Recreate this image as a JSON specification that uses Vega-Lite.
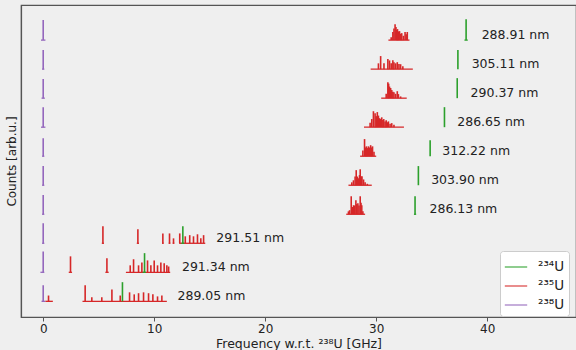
{
  "$schema": "https://vega.github.io/schema/vega-lite/v6.json",
  "width": 555,
  "height": 312,
  "autosize": {"type": "none"},
  "padding": {"left": 21, "top": 5, "right": 0, "bottom": 33},
  "background": "#efefef",
  "config": {
    "font": "DejaVu Sans",
    "view": {"stroke": "#555555", "strokeWidth": 1.2, "fill": "#efefef"},
    "axis": {"domainColor": "#555555", "domainWidth": 1.2, "tickColor": "#555555", "labelColor": "#222222", "titleColor": "#222222", "grid": false, "labelFont": "DejaVu Sans", "titleFont": "DejaVu Sans", "titleFontWeight": "normal"}
  },
  "datasets": {
    "spikes": [
      {"iso": "²³⁸U", "f": 0, "c0": 9, "c1": 9.69},
      {"iso": "²³⁸U", "f": 0, "c0": 8, "c1": 8.66},
      {"iso": "²³⁸U", "f": 0, "c0": 7, "c1": 7.66},
      {"iso": "²³⁸U", "f": 0, "c0": 6, "c1": 6.69},
      {"iso": "²³⁸U", "f": 0, "c0": 5, "c1": 5.62},
      {"iso": "²³⁸U", "f": 0, "c0": 4, "c1": 4.66},
      {"iso": "²³⁸U", "f": 0, "c0": 3, "c1": 3.66},
      {"iso": "²³⁸U", "f": 0, "c0": 2, "c1": 2.69},
      {"iso": "²³⁸U", "f": 0, "c0": 1, "c1": 1.72},
      {"iso": "²³⁸U", "f": 0, "c0": 0, "c1": 0.55},

      {"iso": "²³⁵U", "f": 31.35, "c0": 9, "c1": 9.1},
      {"iso": "²³⁵U", "f": 31.5, "c0": 9, "c1": 9.28},
      {"iso": "²³⁵U", "f": 31.6, "c0": 9, "c1": 9.4},
      {"iso": "²³⁵U", "f": 31.7, "c0": 9, "c1": 9.55},
      {"iso": "²³⁵U", "f": 31.78, "c0": 9, "c1": 9.45},
      {"iso": "²³⁵U", "f": 31.85, "c0": 9, "c1": 9.35},
      {"iso": "²³⁵U", "f": 31.92, "c0": 9, "c1": 9.38},
      {"iso": "²³⁵U", "f": 32.0, "c0": 9, "c1": 9.3},
      {"iso": "²³⁵U", "f": 32.1, "c0": 9, "c1": 9.31},
      {"iso": "²³⁵U", "f": 32.2, "c0": 9, "c1": 9.22},
      {"iso": "²³⁵U", "f": 32.3, "c0": 9, "c1": 9.24},
      {"iso": "²³⁵U", "f": 32.45, "c0": 9, "c1": 9.15},
      {"iso": "²³⁵U", "f": 32.6, "c0": 9, "c1": 9.28},
      {"iso": "²³⁵U", "f": 32.7, "c0": 9, "c1": 9.2},
      {"iso": "²³⁵U", "f": 32.8, "c0": 9, "c1": 9.28},

      {"iso": "²³⁵U", "f": 30.2, "c0": 8, "c1": 8.2},
      {"iso": "²³⁵U", "f": 30.4, "c0": 8, "c1": 8.45},
      {"iso": "²³⁵U", "f": 30.7, "c0": 8, "c1": 8.2},
      {"iso": "²³⁵U", "f": 31.05, "c0": 8, "c1": 8.35},
      {"iso": "²³⁵U", "f": 31.2, "c0": 8, "c1": 8.3},
      {"iso": "²³⁵U", "f": 31.35, "c0": 8, "c1": 8.2},
      {"iso": "²³⁵U", "f": 31.5, "c0": 8, "c1": 8.31},
      {"iso": "²³⁵U", "f": 31.6, "c0": 8, "c1": 8.24},
      {"iso": "²³⁵U", "f": 31.75, "c0": 8, "c1": 8.2},
      {"iso": "²³⁵U", "f": 31.9, "c0": 8, "c1": 8.24},
      {"iso": "²³⁵U", "f": 32.05, "c0": 8, "c1": 8.18},
      {"iso": "²³⁵U", "f": 32.2, "c0": 8, "c1": 8.17},
      {"iso": "²³⁵U", "f": 32.4, "c0": 8, "c1": 8.1},

      {"iso": "²³⁵U", "f": 30.9, "c0": 7, "c1": 7.15},
      {"iso": "²³⁵U", "f": 31.05, "c0": 7, "c1": 7.55},
      {"iso": "²³⁵U", "f": 31.12, "c0": 7, "c1": 7.5},
      {"iso": "²³⁵U", "f": 31.2, "c0": 7, "c1": 7.4},
      {"iso": "²³⁵U", "f": 31.3, "c0": 7, "c1": 7.35},
      {"iso": "²³⁵U", "f": 31.4, "c0": 7, "c1": 7.28},
      {"iso": "²³⁵U", "f": 31.5, "c0": 7, "c1": 7.22},
      {"iso": "²³⁵U", "f": 31.6, "c0": 7, "c1": 7.2},
      {"iso": "²³⁵U", "f": 31.75, "c0": 7, "c1": 7.15},
      {"iso": "²³⁵U", "f": 31.9, "c0": 7, "c1": 7.24},
      {"iso": "²³⁵U", "f": 32.0, "c0": 7, "c1": 7.14},
      {"iso": "²³⁵U", "f": 32.2, "c0": 7, "c1": 7.06},

      {"iso": "²³⁵U", "f": 29.45, "c0": 6, "c1": 6.15},
      {"iso": "²³⁵U", "f": 29.6, "c0": 6, "c1": 6.28},
      {"iso": "²³⁵U", "f": 29.75, "c0": 6, "c1": 6.55},
      {"iso": "²³⁵U", "f": 29.9, "c0": 6, "c1": 6.48},
      {"iso": "²³⁵U", "f": 30.0, "c0": 6, "c1": 6.38},
      {"iso": "²³⁵U", "f": 30.1, "c0": 6, "c1": 6.52},
      {"iso": "²³⁵U", "f": 30.2, "c0": 6, "c1": 6.4},
      {"iso": "²³⁵U", "f": 30.3, "c0": 6, "c1": 6.31},
      {"iso": "²³⁵U", "f": 30.4, "c0": 6, "c1": 6.28},
      {"iso": "²³⁵U", "f": 30.5, "c0": 6, "c1": 6.34},
      {"iso": "²³⁵U", "f": 30.6, "c0": 6, "c1": 6.25},
      {"iso": "²³⁵U", "f": 30.68, "c0": 6, "c1": 6.28},
      {"iso": "²³⁵U", "f": 30.8, "c0": 6, "c1": 6.2},
      {"iso": "²³⁵U", "f": 30.9, "c0": 6, "c1": 6.24},
      {"iso": "²³⁵U", "f": 31.0, "c0": 6, "c1": 6.17},
      {"iso": "²³⁵U", "f": 31.1, "c0": 6, "c1": 6.2},
      {"iso": "²³⁵U", "f": 31.25, "c0": 6, "c1": 6.12},
      {"iso": "²³⁵U", "f": 31.4, "c0": 6, "c1": 6.14},
      {"iso": "²³⁵U", "f": 31.6, "c0": 6, "c1": 6.08},

      {"iso": "²³⁵U", "f": 28.8, "c0": 5, "c1": 5.2},
      {"iso": "²³⁵U", "f": 28.95, "c0": 5, "c1": 5.59},
      {"iso": "²³⁵U", "f": 29.05, "c0": 5, "c1": 5.3},
      {"iso": "²³⁵U", "f": 29.12, "c0": 5, "c1": 5.34},
      {"iso": "²³⁵U", "f": 29.2, "c0": 5, "c1": 5.28},
      {"iso": "²³⁵U", "f": 29.3, "c0": 5, "c1": 5.34},
      {"iso": "²³⁵U", "f": 29.4, "c0": 5, "c1": 5.3},
      {"iso": "²³⁵U", "f": 29.5, "c0": 5, "c1": 5.38},
      {"iso": "²³⁵U", "f": 29.6, "c0": 5, "c1": 5.3},
      {"iso": "²³⁵U", "f": 29.67, "c0": 5, "c1": 5.34},
      {"iso": "²³⁵U", "f": 29.8, "c0": 5, "c1": 5.15},

      {"iso": "²³⁵U", "f": 27.8, "c0": 4, "c1": 4.1},
      {"iso": "²³⁵U", "f": 27.95, "c0": 4, "c1": 4.17},
      {"iso": "²³⁵U", "f": 28.1, "c0": 4, "c1": 4.3},
      {"iso": "²³⁵U", "f": 28.2, "c0": 4, "c1": 4.52},
      {"iso": "²³⁵U", "f": 28.3, "c0": 4, "c1": 4.3},
      {"iso": "²³⁵U", "f": 28.4, "c0": 4, "c1": 4.24},
      {"iso": "²³⁵U", "f": 28.5, "c0": 4, "c1": 4.35},
      {"iso": "²³⁵U", "f": 28.56, "c0": 4, "c1": 4.55},
      {"iso": "²³⁵U", "f": 28.65, "c0": 4, "c1": 4.3},
      {"iso": "²³⁵U", "f": 28.72, "c0": 4, "c1": 4.31},
      {"iso": "²³⁵U", "f": 28.86, "c0": 4, "c1": 4.2},
      {"iso": "²³⁵U", "f": 29.0, "c0": 4, "c1": 4.1},
      {"iso": "²³⁵U", "f": 29.2, "c0": 4, "c1": 4.05},

      {"iso": "²³⁵U", "f": 27.5, "c0": 3, "c1": 3.1},
      {"iso": "²³⁵U", "f": 27.6, "c0": 3, "c1": 3.14},
      {"iso": "²³⁵U", "f": 27.75, "c0": 3, "c1": 3.62},
      {"iso": "²³⁵U", "f": 27.85, "c0": 3, "c1": 3.25},
      {"iso": "²³⁵U", "f": 27.96, "c0": 3, "c1": 3.31},
      {"iso": "²³⁵U", "f": 28.05, "c0": 3, "c1": 3.3},
      {"iso": "²³⁵U", "f": 28.17, "c0": 3, "c1": 3.48},
      {"iso": "²³⁵U", "f": 28.25, "c0": 3, "c1": 3.35},
      {"iso": "²³⁵U", "f": 28.35, "c0": 3, "c1": 3.38},
      {"iso": "²³⁵U", "f": 28.45, "c0": 3, "c1": 3.3},
      {"iso": "²³⁵U", "f": 28.56, "c0": 3, "c1": 3.62},
      {"iso": "²³⁵U", "f": 28.63, "c0": 3, "c1": 3.4},
      {"iso": "²³⁵U", "f": 28.7, "c0": 3, "c1": 3.31},
      {"iso": "²³⁵U", "f": 28.8, "c0": 3, "c1": 3.1},

      {"iso": "²³⁵U", "f": 5.38, "c0": 2, "c1": 2.59},
      {"iso": "²³⁵U", "f": 8.53, "c0": 2, "c1": 2.48},
      {"iso": "²³⁵U", "f": 10.78, "c0": 2, "c1": 2.34},
      {"iso": "²³⁵U", "f": 11.38, "c0": 2, "c1": 2.34},
      {"iso": "²³⁵U", "f": 11.74, "c0": 2, "c1": 2.17},
      {"iso": "²³⁵U", "f": 12.3, "c0": 2, "c1": 2.34},
      {"iso": "²³⁵U", "f": 12.8, "c0": 2, "c1": 2.24},
      {"iso": "²³⁵U", "f": 13.2, "c0": 2, "c1": 2.28},
      {"iso": "²³⁵U", "f": 13.54, "c0": 2, "c1": 2.24},
      {"iso": "²³⁵U", "f": 13.9, "c0": 2, "c1": 2.31},
      {"iso": "²³⁵U", "f": 14.2, "c0": 2, "c1": 2.17},
      {"iso": "²³⁵U", "f": 14.45, "c0": 2, "c1": 2.28},

      {"iso": "²³⁵U", "f": 2.46, "c0": 1, "c1": 1.55},
      {"iso": "²³⁵U", "f": 5.74, "c0": 1, "c1": 1.48},
      {"iso": "²³⁵U", "f": 7.84, "c0": 1, "c1": 1.24},
      {"iso": "²³⁵U", "f": 8.14, "c0": 1, "c1": 1.45},
      {"iso": "²³⁵U", "f": 8.59, "c0": 1, "c1": 1.24},
      {"iso": "²³⁵U", "f": 8.89, "c0": 1, "c1": 1.34},
      {"iso": "²³⁵U", "f": 9.4, "c0": 1, "c1": 1.41},
      {"iso": "²³⁵U", "f": 9.7, "c0": 1, "c1": 1.24},
      {"iso": "²³⁵U", "f": 10.0, "c0": 1, "c1": 1.41},
      {"iso": "²³⁵U", "f": 10.3, "c0": 1, "c1": 1.24},
      {"iso": "²³⁵U", "f": 10.6, "c0": 1, "c1": 1.34},
      {"iso": "²³⁵U", "f": 10.9, "c0": 1, "c1": 1.31},
      {"iso": "²³⁵U", "f": 11.14, "c0": 1, "c1": 1.24},
      {"iso": "²³⁵U", "f": 11.3, "c0": 1, "c1": 1.2},

      {"iso": "²³⁵U", "f": 0.48, "c0": 0, "c1": 0.2},
      {"iso": "²³⁵U", "f": 3.78, "c0": 0, "c1": 0.55},
      {"iso": "²³⁵U", "f": 4.38, "c0": 0, "c1": 0.14},
      {"iso": "²³⁵U", "f": 5.28, "c0": 0, "c1": 0.14},
      {"iso": "²³⁵U", "f": 6.19, "c0": 0, "c1": 0.41},
      {"iso": "²³⁵U", "f": 6.94, "c0": 0, "c1": 0.2},
      {"iso": "²³⁵U", "f": 7.78, "c0": 0, "c1": 0.31},
      {"iso": "²³⁵U", "f": 8.2, "c0": 0, "c1": 0.24},
      {"iso": "²³⁵U", "f": 8.59, "c0": 0, "c1": 0.28},
      {"iso": "²³⁵U", "f": 9.04, "c0": 0, "c1": 0.31},
      {"iso": "²³⁵U", "f": 9.49, "c0": 0, "c1": 0.28},
      {"iso": "²³⁵U", "f": 9.88, "c0": 0, "c1": 0.24},
      {"iso": "²³⁵U", "f": 10.3, "c0": 0, "c1": 0.17},
      {"iso": "²³⁵U", "f": 10.69, "c0": 0, "c1": 0.2},

      {"iso": "²³⁴U", "f": 38.1, "c0": 9, "c1": 9.72},
      {"iso": "²³⁴U", "f": 37.36, "c0": 8, "c1": 8.66},
      {"iso": "²³⁴U", "f": 37.3, "c0": 7, "c1": 7.69},
      {"iso": "²³⁴U", "f": 36.15, "c0": 6, "c1": 6.69},
      {"iso": "²³⁴U", "f": 34.86, "c0": 5, "c1": 5.55},
      {"iso": "²³⁴U", "f": 33.8, "c0": 4, "c1": 4.66},
      {"iso": "²³⁴U", "f": 33.5, "c0": 3, "c1": 3.62},
      {"iso": "²³⁴U", "f": 12.58, "c0": 2, "c1": 2.59},
      {"iso": "²³⁴U", "f": 9.13, "c0": 1, "c1": 1.66},
      {"iso": "²³⁴U", "f": 7.14, "c0": 0, "c1": 0.66}
    ],
    "bases": [
      {"iso": "²³⁸U", "f0": -0.2, "f1": 0.2, "c": 9},
      {"iso": "²³⁸U", "f0": -0.1, "f1": 0.1, "c": 8},
      {"iso": "²³⁸U", "f0": -0.15, "f1": 0.15, "c": 7},
      {"iso": "²³⁸U", "f0": -0.2, "f1": 0.2, "c": 6},
      {"iso": "²³⁸U", "f0": -0.1, "f1": 0.1, "c": 5},
      {"iso": "²³⁸U", "f0": -0.1, "f1": 0.1, "c": 4},
      {"iso": "²³⁸U", "f0": -0.1, "f1": 0.1, "c": 3},
      {"iso": "²³⁸U", "f0": -0.1, "f1": 0.1, "c": 2},
      {"iso": "²³⁸U", "f0": -0.25, "f1": 0.1, "c": 1},
      {"iso": "²³⁸U", "f0": -0.15, "f1": 0.2, "c": 0},
      {"iso": "²³⁵U", "f0": 31.1, "f1": 33.0, "c": 9},
      {"iso": "²³⁵U", "f0": 29.5, "f1": 33.3, "c": 8},
      {"iso": "²³⁵U", "f0": 30.45, "f1": 32.75, "c": 7},
      {"iso": "²³⁵U", "f0": 28.9, "f1": 32.5, "c": 6},
      {"iso": "²³⁵U", "f0": 28.55, "f1": 30.0, "c": 5},
      {"iso": "²³⁵U", "f0": 27.5, "f1": 29.6, "c": 4},
      {"iso": "²³⁵U", "f0": 27.3, "f1": 29.0, "c": 3},
      {"iso": "²³⁵U", "f0": 5.28, "f1": 5.48, "c": 2},
      {"iso": "²³⁵U", "f0": 8.43, "f1": 8.63, "c": 2},
      {"iso": "²³⁵U", "f0": 10.7, "f1": 10.86, "c": 2},
      {"iso": "²³⁵U", "f0": 11.3, "f1": 11.46, "c": 2},
      {"iso": "²³⁵U", "f0": 11.66, "f1": 11.82, "c": 2},
      {"iso": "²³⁵U", "f0": 12.25, "f1": 14.6, "c": 2},
      {"iso": "²³⁵U", "f0": 2.3, "f1": 2.6, "c": 1},
      {"iso": "²³⁵U", "f0": 5.6, "f1": 5.9, "c": 1},
      {"iso": "²³⁵U", "f0": 7.45, "f1": 11.44, "c": 1},
      {"iso": "²³⁵U", "f0": 0.2, "f1": 0.87, "c": 0},
      {"iso": "²³⁵U", "f0": 3.54, "f1": 11.14, "c": 0},
      {"iso": "²³⁴U", "f0": 37.95, "f1": 38.25, "c": 9},
      {"iso": "²³⁴U", "f0": 12.45, "f1": 12.7, "c": 2},
      {"iso": "²³⁴U", "f0": 8.95, "f1": 9.25, "c": 1},
      {"iso": "²³⁴U", "f0": 33.4, "f1": 33.6, "c": 3}
    ],
    "labels": [
      {"text": "288.91 nm", "f": 39.5, "c": 9},
      {"text": "305.11 nm", "f": 38.6, "c": 8},
      {"text": "290.37 nm", "f": 38.5, "c": 7},
      {"text": "286.65 nm", "f": 37.3, "c": 6},
      {"text": "312.22 nm", "f": 35.95, "c": 5},
      {"text": "303.90 nm", "f": 34.95, "c": 4},
      {"text": "286.13 nm", "f": 34.8, "c": 3},
      {"text": "291.51 nm", "f": 15.6, "c": 2},
      {"text": "291.34 nm", "f": 12.5, "c": 1},
      {"text": "289.05 nm", "f": 12.1, "c": 0}
    ]
  },
  "encoding": {
    "x": {"type": "quantitative"},
    "y": {"type": "quantitative"}
  },
  "layer": [
    {
      "data": {"name": "bases"},
      "mark": {"type": "rule", "strokeWidth": 1.3},
      "encoding": {
        "x": {"field": "f0", "type": "quantitative", "scale": {"domain": [-2, 48], "nice": false, "zero": false},
              "axis": {"values": [0, 10, 20, 30, 40], "title": "Frequency w.r.t. ²³⁸U [GHz]", "labelFontSize": 12, "titleFontSize": 12.5, "tickSize": 4, "labelPadding": 2, "titlePadding": 3}},
        "x2": {"field": "f1"},
        "y": {"field": "c", "type": "quantitative", "scale": {"domain": [-0.54, 10.21], "nice": false, "zero": false},
              "axis": {"labels": false, "ticks": false, "title": "Counts [arb.u.]", "titleFontSize": 12, "titlePadding": 3}},
        "color": {"field": "iso", "type": "nominal", "scale": {"domain": ["²³⁴U", "²³⁵U", "²³⁸U"], "range": ["#2ca02c", "#d62728", "#9467bd"]},
                  "legend": {"title": null, "orient": "none", "legendX": 479, "legendY": 246, "symbolType": "stroke", "symbolSize": 500, "symbolStrokeWidth": 1.5, "symbolOpacity": 0.7, "labelFontSize": 13.5, "labelColor": "#222222", "fillColor": "#ffffff", "strokeColor": "#cccccc", "cornerRadius": 3, "padding": 4, "rowPadding": 0, "labelOffset": 10}}
      }
    },
    {
      "data": {"name": "spikes"},
      "mark": {"type": "rule", "strokeWidth": 1.6},
      "encoding": {
        "x": {"field": "f", "type": "quantitative"},
        "y": {"field": "c0", "type": "quantitative"},
        "y2": {"field": "c1"},
        "color": {"field": "iso", "type": "nominal"}
      }
    },
    {
      "data": {"name": "labels"},
      "mark": {"type": "text", "align": "left", "baseline": "middle", "fontSize": 12.5, "color": "#222222", "dy": -5},
      "encoding": {
        "x": {"field": "f", "type": "quantitative"},
        "y": {"field": "c", "type": "quantitative"},
        "text": {"field": "text"}
      }
    }
  ]
}
